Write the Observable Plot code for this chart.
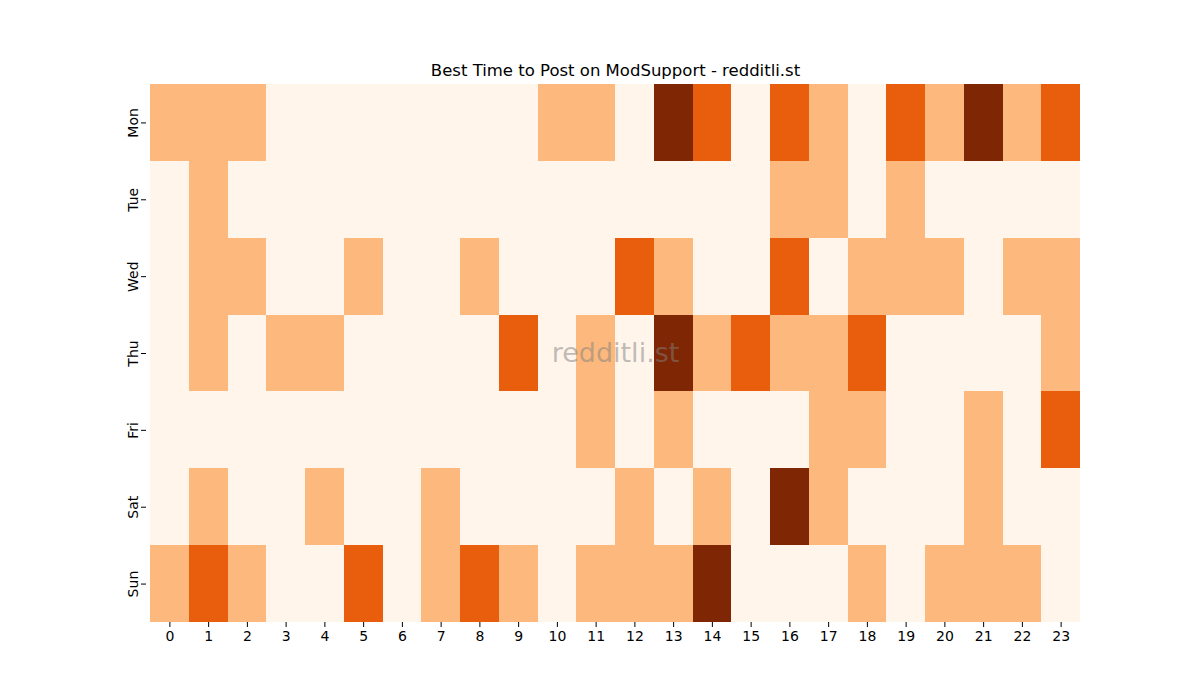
<!DOCTYPE html>
<html>
<head>
<meta charset="utf-8">
<script src="https://cdn.jsdelivr.net/npm/d3@7"></script>
<script src="https://cdn.jsdelivr.net/npm/@observablehq/plot@0.6"></script>
<style>
html,body{margin:0;padding:0;background:#fff;}
#chart{width:1200px;height:700px;}
svg{font-family:"DejaVu Sans",sans-serif;}
</style>
</head>
<body>
<div id="chart"></div>
<script>
const days = ["Mon","Tue","Wed","Thu","Fri","Sat","Sun"];
const hours = d3.range(24);
const mon = [1,1,1,0,0,0,0,0,0,0,1,1,0,3,2,0,2,1,0,2,1,3,1,2];
const tue = [0,1,0,0,0,0,0,0,0,0,0,0,0,0,0,0,1,1,0,1,0,0,0,0];
const wed = [0,1,1,0,0,1,0,0,1,0,0,0,2,1,0,0,2,0,1,1,1,0,1,1];
const thu = [0,1,0,1,1,0,0,0,0,2,0,1,0,3,1,2,1,1,2,0,0,0,0,1];
const fri = [0,0,0,0,0,0,0,0,0,0,0,1,0,1,0,0,0,1,1,0,0,1,0,2];
const sat = [0,1,0,0,1,0,0,1,0,0,0,0,1,0,1,0,3,1,0,0,0,1,0,0];
const sun = [1,2,1,0,0,2,0,1,2,1,0,1,1,1,3,0,0,0,1,0,1,1,1,0];
const levels = [0,1,2,3];
const palette = ["#fff5eb","#fdb97d","#e95e0d","#7f2704"];
const title = "Best Time to Post on ModSupport - redditli.st";
const watermark = "redditli.st";

const rows = [mon,tue,wed,thu,fri,sat,sun];
const data = [];
rows.forEach((r,i)=>r.forEach((v,h)=>data.push({day:days[i],hour:h,value:v})));

const chart = Plot.plot({
  width:1200, height:700,
  marginLeft:150, marginRight:120, marginTop:84, marginBottom:78,
  style:{fontSize:"14px", fontFamily:"DejaVu Sans, sans-serif", color:"#000"},
  x:{type:"band", domain:hours, padding:0, round:false, label:null},
  y:{type:"band", domain:days, padding:0, round:false, label:null},
  color:{type:"ordinal", domain:levels, range:palette},
  marks:[
    Plot.cell(data,{x:"hour", y:"day", fill:"value", inset:0, shapeRendering:"crispEdges"}),
    Plot.axisX({tickSize:5, tickPadding:4, fontSize:14}),
    Plot.axisY({tickSize:5, tickRotate:-90, tickPadding:4, fontSize:14, textAnchor:"middle", dx:-4}),
    Plot.text([watermark],{frameAnchor:"middle", text:d=>d, fontSize:27, fill:"#808080", fillOpacity:0.5}),
    Plot.text([title],{frameAnchor:"top", text:d=>d, dy:-20, fontSize:16.5, fill:"#000"})
  ]
});
document.getElementById("chart").appendChild(chart);
</script>
</body>
</html>
